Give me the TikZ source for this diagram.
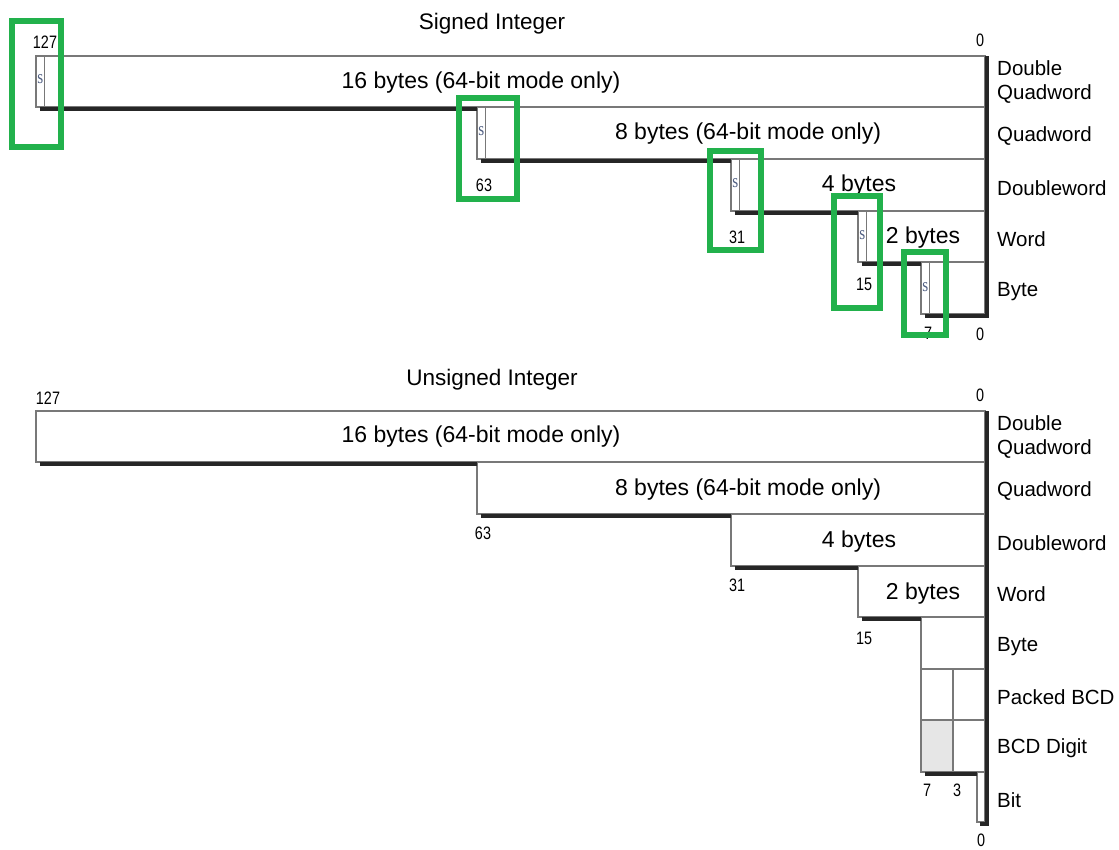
\documentclass[tikz,border=0pt]{standalone}
\usepackage{fontspec}
\setmainfont{Liberation Sans}
\newfontfamily\narrowfont[FakeStretch=0.8]{Liberation Sans}
\newfontfamily\signfont[FakeStretch=0.8]{Liberation Serif}
\definecolor{hlgreen}{RGB}{34,177,76}
\definecolor{boxgray}{RGB}{120,120,120}
\definecolor{signcol}{RGB}{80,95,130}
\definecolor{bcdfill}{RGB}{230,230,230}
\tikzset{
  box/.style={draw=boxgray, line width=1.3pt},
  shade/.style={line width=4pt, black!85},
  edge/.style={line width=4pt, black!85},
  big/.style={font=\fontsize{23}{23}\selectfont, inner sep=0, yshift=-3pt},
  title/.style={font=\fontsize{22.5}{23}\selectfont, inner sep=0, yshift=-2pt},
  lab/.style={font=\fontsize{20.5}{24}\selectfont, anchor=west, inner sep=0, align=left, yshift=-2.5pt},
  num/.style={font=\narrowfont\fontsize{18}{18}\selectfont, inner sep=0},
  sgn/.style={font=\signfont\fontsize{19}{19}\selectfont, text=signcol, inner sep=0},
  hl/.style={draw=hlgreen, line width=6pt}
}
\begin{document}
\begin{tikzpicture}[x=1pt,y=-1pt]
\useasboundingbox (0,0) rectangle (1119,849);

% ================= Signed =================
\node[title] (st) at (492,22) {Signed Integer};

% boxes
\draw[box] (36,56) rectangle (985,107);
\draw[box] (477,107) rectangle (985,159);
\draw[box] (731,159) rectangle (985,211);
\draw[box] (858,211) rectangle (985,262);
\draw[box] (921,262) rectangle (985,314);
% sign bit dividers
\draw[box] (44.5,56) -- (44.5,107);
\draw[box] (485.5,107) -- (485.5,159);
\draw[box] (739.5,159) -- (739.5,211);
\draw[box] (866.5,211) -- (866.5,262);
\draw[box] (929.5,262) -- (929.5,314);
% shadows
\draw[shade] (40,109) -- (477,109);
\draw[shade] (481,161) -- (731,161);
\draw[shade] (735,213) -- (858,213);
\draw[shade] (862,264) -- (921,264);
\draw[shade] (925,316) -- (989,316);
\draw[edge] (987,56) -- (987,318);

% sign letters
\node[sgn] (s1) at (40.3,79) {s};
\node[sgn] (s2) at (481.3,131) {s};
\node[sgn] (s3) at (735.3,183) {s};
\node[sgn] (s4) at (862.3,235) {s};
\node[sgn] (s5) at (925.3,287) {s};

% texts in boxes
\node[big] (sdq) at (481,80) {16 bytes (64-bit mode only)};
\node[big] (sqw) at (748,131) {8 bytes (64-bit mode only)};
\node[big] (sdw) at (859,183) {4 bytes};
\node[big] (sw) at (923,235) {2 bytes};

% bit numbers
\node[num] (sn127) at (45,42) {127};
\node[num] (sn0a) at (980,40) {0};
\node[num] (sn63) at (484,185) {63};
\node[num] (sn31) at (737,237) {31};
\node[num] (sn15) at (864,284) {15};
\node[num] (sn7) at (928,333) {7};
\node[num] (sn0b) at (980,334) {0};

% right labels
\node[lab] (sl1) at (997,80) {Double\\Quadword};
\node[lab] (sl2) at (997,134) {Quadword};
\node[lab] (sl3) at (997,186) {Doubleword};
\node[lab] (sl4) at (997,237) {Word};
\node[lab] (sl5) at (997,289) {Byte};

% green highlights
\draw[hl] (11.5,21) rectangle (61,147);
\draw[hl] (458.5,97.5) rectangle (517,199);
\draw[hl] (710,151) rectangle (761,250);
\draw[hl] (834,196) rectangle (880,308);
\draw[hl] (903.5,251.5) rectangle (946,335);

% ================= Unsigned =================
\node[title] (ut) at (492,378) {Unsigned Integer};

\fill[bcdfill] (921,720) rectangle (953,772);
\draw[box] (36,411) rectangle (985,462);
\draw[box] (477,462) rectangle (985,514);
\draw[box] (731,514) rectangle (985,566);
\draw[box] (858,566) rectangle (985,617);
\draw[box] (921,617) rectangle (985,669);
\draw[box] (921,669) rectangle (985,720);
\draw[box] (921,720) rectangle (985,772);
\draw[box] (953,669) -- (953,772);
\draw[box] (977,772) rectangle (985,822);
% shadows
\draw[shade] (40,464) -- (477,464);
\draw[shade] (481,516) -- (731,516);
\draw[shade] (735,568) -- (858,568);
\draw[shade] (862,619) -- (921,619);
\draw[shade] (925,774) -- (977,774);
\draw[shade] (980,824) -- (989,824);
\draw[edge] (987,411) -- (987,826);

\node[big] (udq) at (481,434) {16 bytes (64-bit mode only)};
\node[big] (uqw) at (748,487) {8 bytes (64-bit mode only)};
\node[big] (udw) at (859,539) {4 bytes};
\node[big] (uw) at (923,591) {2 bytes};

\node[num] (un127) at (48,398) {127};
\node[num] (un0a) at (980,395) {0};
\node[num] (un63) at (483,533) {63};
\node[num] (un31) at (737,585) {31};
\node[num] (un15) at (864,638) {15};
\node[num] (un7) at (927,790) {7};
\node[num] (un3) at (957,790) {3};
\node[num] (un0b) at (981,840) {0};

\node[lab] (ul1) at (997,435) {Double\\Quadword};
\node[lab] (ul2) at (997,489) {Quadword};
\node[lab] (ul3) at (997,541) {Doubleword};
\node[lab] (ul4) at (997,592) {Word};
\node[lab] (ul5) at (997,644) {Byte};
\node[lab] (ul6) at (997,695) {Packed BCD};
\node[lab] (ul7) at (997,746) {BCD Digit};
\node[lab] (ul8) at (997,798) {Bit};
\end{tikzpicture}
\end{document}
